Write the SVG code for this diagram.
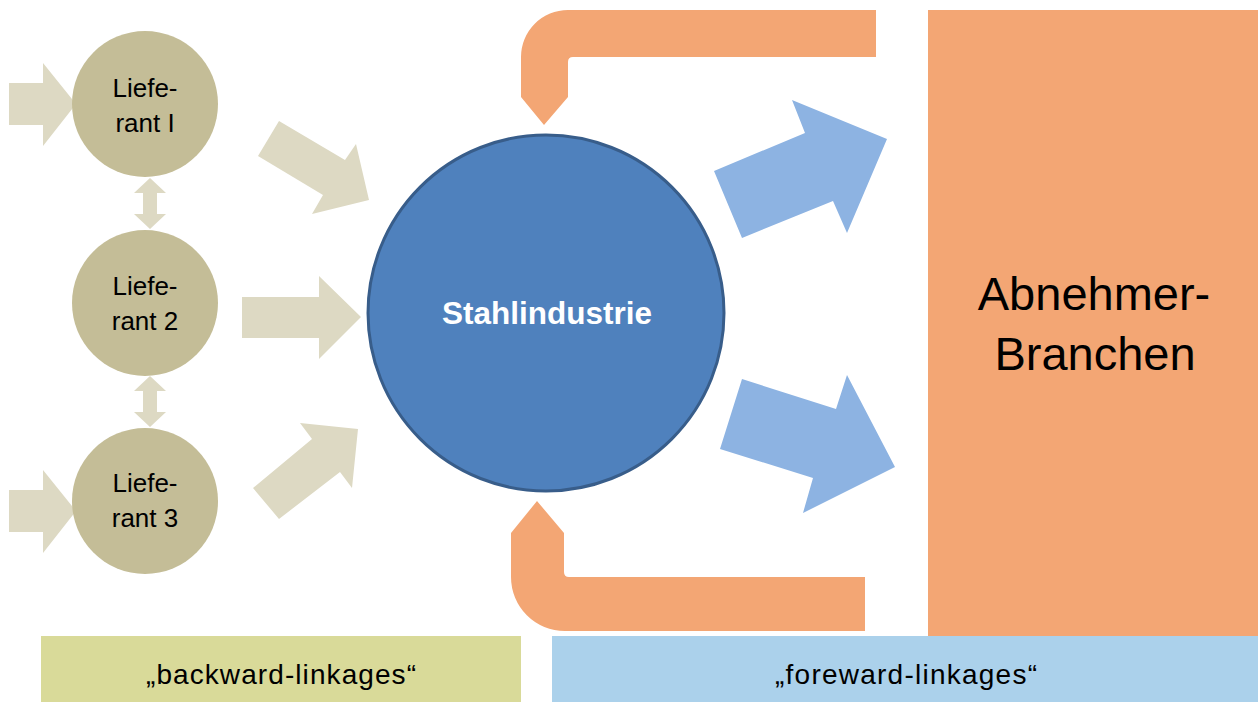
<svg xmlns="http://www.w3.org/2000/svg" width="1258" height="702" viewBox="0 0 1258 702">
<style>
.sup{fill:#c4bd97}
.beige{fill:#ddd9c3}
.orange{fill:#f3a674}
.blue{fill:#8db3e2}
.t{font-family:"Liberation Sans",Arial,sans-serif;fill:#000;text-anchor:middle}
.ct{font-size:26px}
</style>
<rect width="1258" height="702" fill="#ffffff"/>
<g id="connectors">
<polygon class="beige" points="9,83 43,83 43,63 76,104 43,146 43,125 9,125"/>
<polygon class="beige" points="9,490 43,490 43,470 76,511 43,553 43,532 9,532"/>
<polygon class="beige" points="150,178 166,193 157,193 157,214 166,214 150,229 134,214 143,214 143,193 134,193"/>
<polygon class="beige" points="150,376 166,391 157,391 157,412 166,412 150,427 134,412 143,412 143,391 134,391"/>
<polygon class="beige" points="242,297 319,297 319,276 361,317 319,359 319,338 242,338"/>
<polygon class="beige" points="279,121 345,160 356,144 369,200 312,214 323,195 258,156"/>
<polygon class="beige" points="253,488 312,439 300,423 358,429 352,488 340,472 279,519"/>
<polygon class="blue" points="714,171 805,133 792,100 887,139 847,233 833,201 742,238"/>
<polygon class="blue" points="742,379 836,409 847,375 895,467 803,513 813,478 720,449"/>
<path class="orange" d="M876,10 L568,10 A47,47 0 0 0 521,57 L521,97 L544,125 L568,97 L568,62 Q568,57 573,57 L876,57 Z"/>
<path class="orange" d="M865,631 L565,631 A54,54 0 0 1 511,577 L511,533 L537,501 L564,533 L564,572 Q564,577 569,577 L865,577 Z"/>
</g>
<g id="lieferant1">
<circle class="sup" cx="145" cy="104" r="73"/>
<text class="t ct" x="145" y="97">Liefe-</text>
<text class="t ct" x="145" y="132">rant I</text>
</g>
<g id="lieferant2">
<circle class="sup" cx="145" cy="303" r="73"/>
<text class="t ct" x="145" y="295">Liefe-</text>
<text class="t ct" x="145" y="330">rant 2</text>
</g>
<g id="lieferant3">
<circle class="sup" cx="145" cy="501" r="73"/>
<text class="t ct" x="145" y="492">Liefe-</text>
<text class="t ct" x="145" y="527">rant 3</text>
</g>
<g id="stahlindustrie">
<circle cx="546" cy="313" r="178" fill="#4f81bd" stroke="#385d8a" stroke-width="3"/>
<text class="t" x="547" y="324" font-size="31.5" font-weight="bold" style="fill:#ffffff">Stahlindustrie</text>
</g>
<g id="abnehmer">
<rect class="orange" x="928" y="10" width="330" height="626"/>
<text class="t" x="1094" y="310" font-size="47">Abnehmer-</text>
<text class="t" x="1095" y="370" font-size="47">Branchen</text>
</g>
<g id="backward">
<rect x="41" y="636" width="480" height="66" fill="#d9da99"/>
<text class="t" x="281" y="684" font-size="28" textLength="270" lengthAdjust="spacing">„backward-linkages“</text>
</g>
<g id="foreward">
<rect x="552" y="636" width="706" height="66" fill="#abd1eb"/>
<text class="t" x="906" y="684" font-size="28" textLength="262" lengthAdjust="spacing">„foreward-linkages“</text>
</g>
</svg>
